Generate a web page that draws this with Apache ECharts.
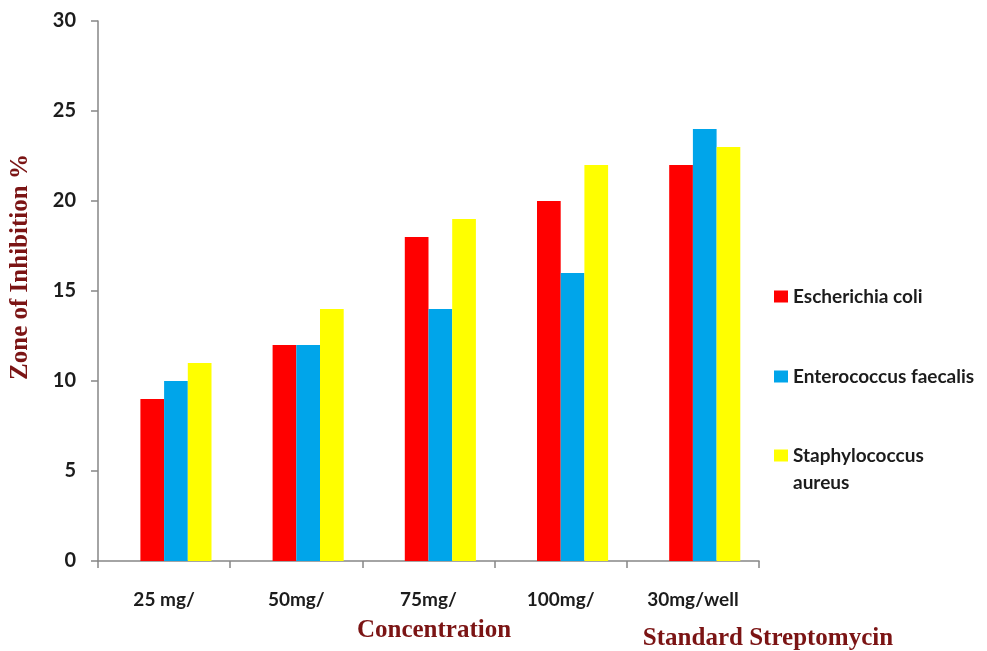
<!DOCTYPE html>
<html>
<head>
<meta charset="utf-8">
<script src="https://cdn.jsdelivr.net/npm/echarts@6/dist/echarts.min.js"></script>
<style>
  html, body { margin: 0; padding: 0; background: #ffffff; }
  #chart { width: 987px; height: 651px; }
</style>
</head>
<body>
<div id="chart"></div>
<script>
// Zone of inhibition (%) per extract concentration and the streptomycin standard
const categories = ['25 mg/', '50mg/', '75mg/', '100mg/', '30mg/well'];
const ecoli      = [9, 12, 18, 20, 22];
const efaecalis  = [10, 12, 14, 16, 24];
const saureus    = [11, 14, 19, 22, 23];
const yTicks     = { min: 0, max: 30, interval: 5 };

const seriesNames = ['Escherichia coli', 'Enterococcus faecalis', 'Staphylococcus aureus'];
const seriesColors = ['#ff0000', '#00a5ea', '#ffff00'];

const labelFont = 'Lato, "Open Sans", "Liberation Sans", sans-serif';
const titleFont = '"Liberation Serif", "DejaVu Serif", serif';
const titleColor = '#7b1414';
const textColor = '#1c1c1c';
const axisGray = '#868686';

const chart = echarts.init(document.getElementById('chart'), null, { renderer: 'canvas' });

const barBase = { type: 'bar', barWidth: 23.7, barGap: '0%', emphasis: { disabled: true } };

function legendFor(name, top, formatter) {
  const opt = {
    orient: 'vertical',
    left: 769,
    top: top,
    itemWidth: 14,
    itemHeight: 12,
    itemGap: 10,
    icon: 'rect',
    selectedMode: false,
    data: [name],
    textStyle: { color: textColor, fontFamily: labelFont, fontWeight: 'bold', fontSize: 19, lineHeight: 27 }
  };
  if (formatter) opt.formatter = formatter;
  return opt;
}

function titleText(text, x, y, rotation) {
  return {
    type: 'text',
    x: x, y: y,
    rotation: rotation || 0,
    style: {
      text: text,
      fill: titleColor,
      font: 'bold 25px ' + titleFont,
      align: 'center',
      verticalAlign: 'middle'
    }
  };
}

chart.setOption({
  animation: false,
  backgroundColor: '#ffffff',
  grid: { left: 98, right: 228, top: 21, bottom: 90, containLabel: false },
  legend: [
    legendFor(seriesNames[0], 278),
    legendFor(seriesNames[1], 358),
    // two-line label; the blank first line keeps the swatch level with "Staphylococcus"
    legendFor(seriesNames[2], 410, n => ' \n' + n.replace(' ', '\n'))
  ],
  xAxis: {
    type: 'category',
    data: categories,
    boundaryGap: true,
    axisLine: { show: true, lineStyle: { color: axisGray, width: 1.5 } },
    axisTick: { show: true, length: 7, lineStyle: { color: axisGray, width: 1.5 } },
    axisLabel: { color: textColor, fontFamily: labelFont, fontWeight: 'bold', fontSize: 19, margin: 29 },
    splitLine: { show: false }
  },
  yAxis: {
    type: 'value',
    min: yTicks.min,
    max: yTicks.max,
    interval: yTicks.interval,
    axisLine: { show: true, lineStyle: { color: axisGray, width: 1.5 } },
    axisTick: { show: true, length: 7, lineStyle: { color: axisGray, width: 1.5 } },
    axisLabel: { color: textColor, fontFamily: labelFont, fontWeight: 'bold', fontSize: 20, margin: 22 },
    splitLine: { show: false }
  },
  graphic: [
    titleText('Zone of Inhibition %', 21, 267, Math.PI / 2),
    titleText('Concentration', 434, 631),
    titleText('Standard Streptomycin', 768, 639)
  ],
  series: [
    // empty leading slot keeps the three bars set right of each category centre
    Object.assign({}, barBase, { name: '', data: categories.map(() => null), itemStyle: { color: 'rgba(0,0,0,0)' } }),
    Object.assign({}, barBase, { name: seriesNames[0], data: ecoli, itemStyle: { color: seriesColors[0] } }),
    Object.assign({}, barBase, { name: seriesNames[1], data: efaecalis, itemStyle: { color: seriesColors[1] } }),
    Object.assign({}, barBase, { name: seriesNames[2], data: saureus, itemStyle: { color: seriesColors[2] } })
  ]
});
</script>
</body>
</html>
